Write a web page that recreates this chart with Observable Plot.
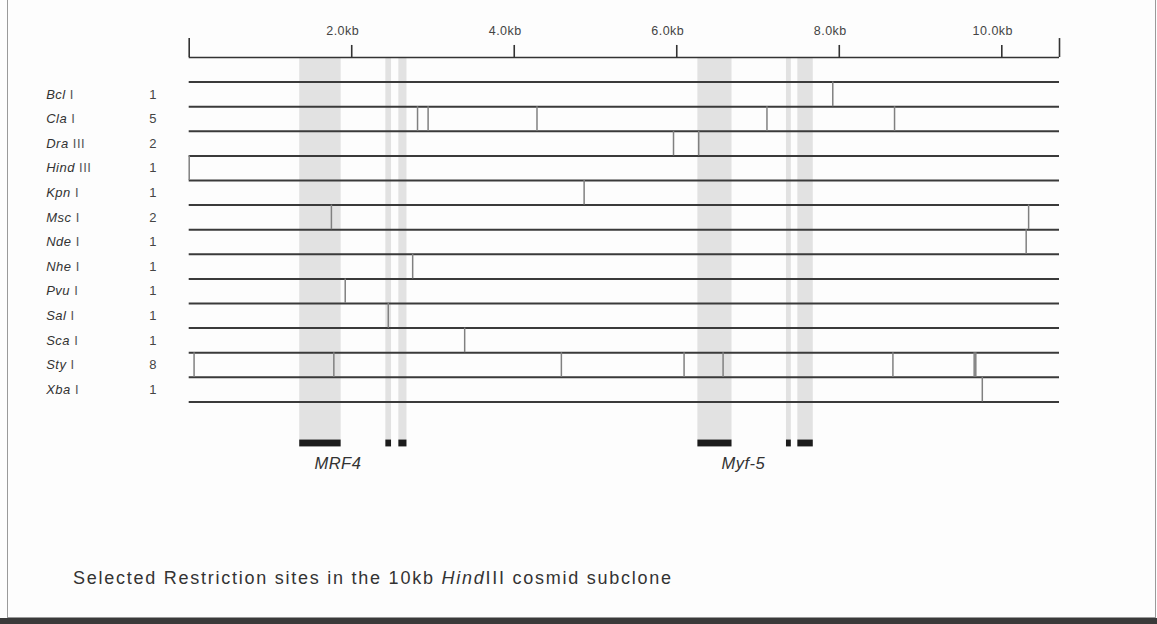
<!DOCTYPE html>
<html><head><meta charset="utf-8">
<script src="https://cdn.jsdelivr.net/npm/d3@7"></script>
<script src="https://cdn.jsdelivr.net/npm/@observablehq/plot@0.6"></script>
<style>
html,body{margin:0;padding:0;background:#fff;}
#wrap{position:relative;width:1157px;height:624px;overflow:hidden;background:#fdfdfd;font-family:"Liberation Sans",Arial,sans-serif;}
#frame{position:absolute;left:7px;top:-1px;width:1149px;height:619px;border:1px solid #9a9a9a;box-sizing:border-box;}
#strip{position:absolute;left:0;top:618px;width:1157px;height:6px;background:#3a3a3a;}
#chart{position:absolute;left:0;top:0;}
#caption{position:absolute;left:73px;top:568px;font-size:18px;color:#333;letter-spacing:1.75px;}
</style></head>
<body><div id="wrap"><div id="frame"></div><div id="chart"></div><div id="caption">Selected Restriction sites in the 10kb <i>Hind</i>III cosmid subclone</div><div id="strip"></div></div>
<script>
// ---- data ----
const enzymeNames = ["Bcl","Cla","Dra","Hind","Kpn","Msc","Nde","Nhe","Pvu","Sal","Sca","Sty","Xba"];
const enzymeNumerals = ["I","I","III","III","I","I","I","I","I","I","I","I","I"];
const siteCounts = [1,5,2,1,1,2,1,1,1,1,1,8,1];
const sitePositionsKb = [
  [7.92],
  [2.81,2.94,4.28,7.11,8.68],
  [5.96,6.27],
  [0.0],
  [4.86],
  [1.75,10.33],
  [10.30],
  [2.75],
  [1.92],
  [2.45],
  [3.39],
  [0.06,1.78,4.58,6.09,6.57,8.66,9.66,9.68],
  [9.76]
];
const cloneLengthKb = 10.71;
const scaleTicksKb = [2,4,6,8,10];
const scaleTickLabels = ["2.0kb","4.0kb","6.0kb","8.0kb","10.0kb"];
const exonStartKb = [1.36,2.42,2.58,6.26,7.35,7.49];
const exonEndKb   = [1.87,2.49,2.68,6.68,7.41,7.68];
const geneNames = ["MRF4","Myf-5"];
const geneLabelKb = [1.83,6.82];

// ---- tables built from the arrays ----
const rows = enzymeNames.map((n,i)=>({name:n, numeral:enzymeNumerals[i], count:siteCounts[i], row:i}));
const sites = sitePositionsKb.flatMap((list,i)=>list.map(kb=>({kb, row:i})));
const rowLines = d3.range(enzymeNames.length + 1);
const exons = exonStartKb.map((s,i)=>({start:s, end:exonEndKb[i]}));
const ticks = scaleTicksKb.map((kb,i)=>({kb, label:scaleTickLabels[i]}));
const ends = [0, cloneLengthKb];
const genes = geneNames.map((g,i)=>({name:g, kb:geneLabelKb[i]}));

const AXIS = -1, BAR_TOP = 14.55, BAR_BOT = 14.83, GENE_Y = 15.5;

const chart = Plot.plot({
  width: 1157, height: 520,
  marginLeft: 188.7, marginRight: 98, marginTop: 57, marginBottom: 44.8,
  x: {domain: [0, cloneLengthKb], axis: null},
  y: {domain: [-1, 16], reverse: true, axis: null},
  style: {fontFamily: '"Liberation Sans", Arial, sans-serif', color: "#333", background: "transparent"},
  marks: [
    Plot.rect(exons, {x1: "start", x2: "end", y1: AXIS, y2: BAR_TOP, fill: "#e2e2e2"}),
    Plot.rect(exons, {x1: "start", x2: "end", y1: BAR_TOP, y2: BAR_BOT, fill: "#1c1c1c"}),
    Plot.ruleY(rowLines, {y: d=>d, x1: 0, x2: cloneLengthKb, stroke: "#3a3a3a", strokeWidth: 2}),
    Plot.ruleX(sites, {x: "kb", y1: "row", y2: d=>d.row+1, stroke: "#808080", strokeWidth: 1.5}),
    Plot.ruleY([AXIS], {x1: 0, x2: cloneLengthKb, stroke: "#333", strokeWidth: 1.6}),
    Plot.ruleX(ticks, {x: "kb", y1: AXIS, y2: AXIS - 0.49, stroke: "#333", strokeWidth: 1.6}),
    Plot.ruleX(ends, {x: d=>d, y1: AXIS, y2: AXIS - 0.77, stroke: "#333", strokeWidth: 1.6}),
    Plot.text(ticks, {x: "kb", y: AXIS - 1.06, text: "label", dx: -9, fontSize: 12.5, fill: "#444"}),
    Plot.text(rows, {y: d=>d.row+0.5, text: d=>d.name+" "+d.numeral, frameAnchor: "left", dx: -143, textAnchor: "start", fontSize: 13, fill: "#333"}),
    Plot.text(rows, {y: d=>d.row+0.5, text: "count", frameAnchor: "left", dx: -36, textAnchor: "middle", fontSize: 13, fill: "#444"}),
    Plot.text(genes, {x: "kb", y: GENE_Y, text: "name", fontSize: 16.5, fontStyle: "italic", fill: "#333"})
  ]
});

// letter spacing for the scanned look, and italic genus part of each enzyme label
chart.querySelectorAll("text").forEach(t => {
  t.style.letterSpacing = "0.5px";
  const m = /^(\w+) (I+)$/.exec(t.textContent);
  if (m && enzymeNames.includes(m[1])) {
    t.textContent = "";
    const a = document.createElementNS("http://www.w3.org/2000/svg","tspan");
    a.setAttribute("font-style","italic"); a.textContent = m[1];
    const b = document.createElementNS("http://www.w3.org/2000/svg","tspan");
    b.setAttribute("font-style","normal"); b.setAttribute("fill","#555"); b.textContent = " " + m[2];
    t.appendChild(a); t.appendChild(b);
  }
});
document.getElementById("chart").appendChild(chart);
</script>
</body></html>
